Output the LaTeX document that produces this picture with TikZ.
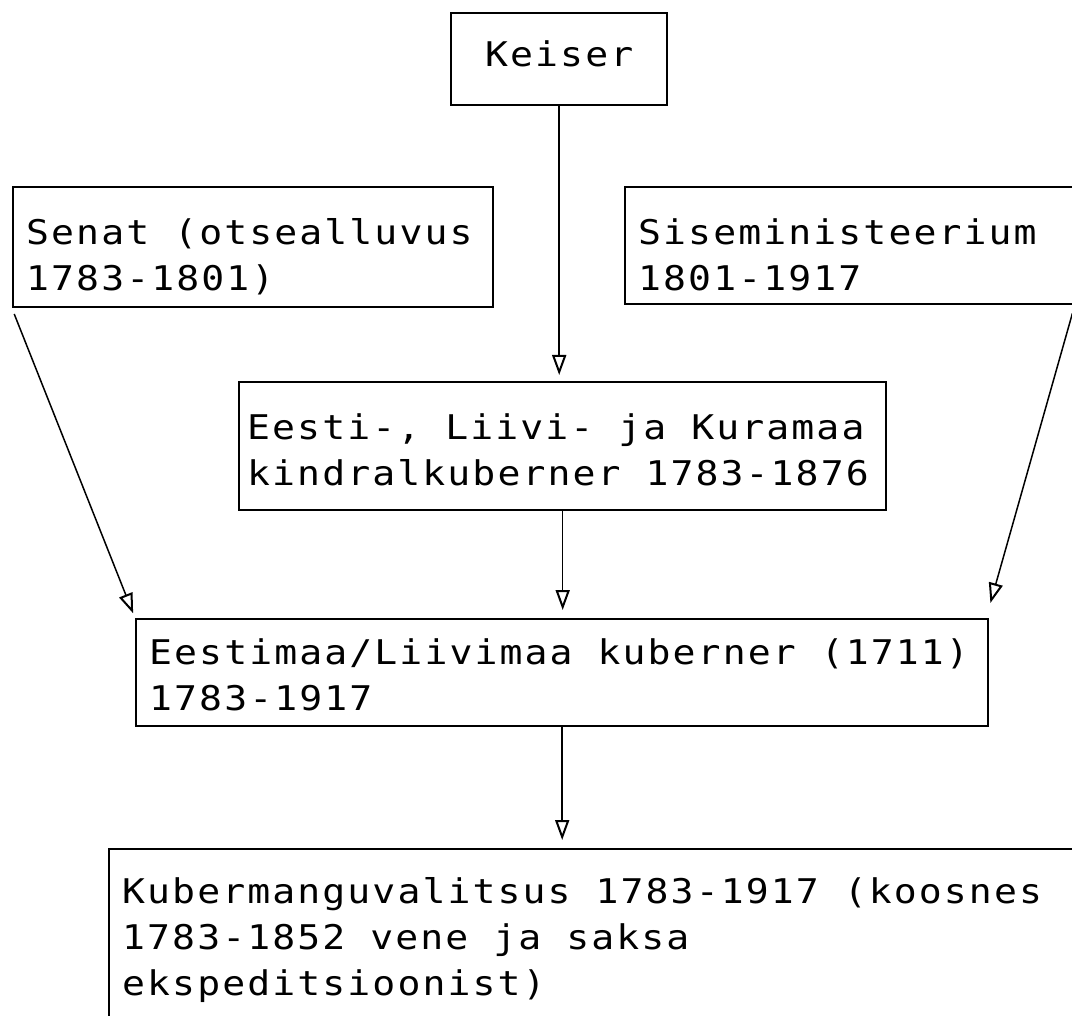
\documentclass[tikz,border=0pt]{standalone}
\usepackage{fontspec}
\setmonofont[FakeStretch=1.12,LetterSpace=6.2]{DejaVu Sans Mono}
\usetikzlibrary{arrows.meta,positioning}
\newcommand\boxfont{\fontsize{34}{46}\selectfont\ttfamily}
\newcommand\boxspace{\spaceskip 25pt\relax\xspaceskip 25pt\relax}

\begin{document}
\begin{tikzpicture}[x=1pt,y=-1pt,
  box/.style={draw,line width=2.4pt,anchor=north west,inner xsep=13pt,inner ysep=0pt,
    align=left,font=\boxfont},
  pad/.style 2 args={execute at begin node={\boxspace\rule{0pt}{#1}},
    execute at end node={\rule[-#2]{0pt}{#2}}},
  arr/.style={line width=1.5pt,
    -{Triangle[open,length=20pt,width=14pt,line width=2pt]}}]
\useasboundingbox (0,0) rectangle (1072,1016);
\fill[white] (0,0) rectangle (1072,1016);

% boxes
\node[box,text width=190pt,pad={53pt}{39pt},align=center] (keiser) at (450,12) {Keiser};
\node[box,text width=454pt,pad={57pt}{17pt}] (senat) at (12,186)
  {Senat (otsealluvus\\1783-1801)};
\node[box,text width=425pt,pad={57pt}{14pt}] (sise) at (624,186)
  {Siseministeerium\\1801-1917};
\node[box,text width=631pt,inner xsep=8pt,pad={57pt}{25pt}] (kindral) at (238,381)
  {Eesti-, Liivi- ja Kuramaa\\kindralkuberner 1783-1876};
\node[box,text width=826pt,pad={45pt}{16pt}] (eestimaa) at (135,618)
  {Eestimaa/Liivimaa kuberner (1711)\\1783-1917};
\node[box,text width=956pt,pad={54pt}{40pt}] (kub) at (108,848)
  {Kubermanguvalitsus 1783-1917 (koosnes\\1783-1852 vene ja saksa\\ekspeditsioonist)};

% arrows
\coordinate (sisefoot) at ([xshift=-5pt,yshift=-8pt]sise.south east);
\coordinate (eestitip) at ([xshift=1pt,yshift=15pt]eestimaa.north east);
\draw[arr,shorten >=6pt] (keiser.south) -- (keiser.south |- kindral.north);
\draw[arr,shorten >=8pt] (kindral.south) -- (kindral.south |- eestimaa.north);
\draw[arr,shorten >=8pt] (eestimaa.south) -- (eestimaa.south |- kub.north);
\draw[arr,shorten <=6pt,shorten >=5pt] (senat.south west) -- (eestimaa.north west);
\draw[arr] (sisefoot) -- (eestitip);

\end{tikzpicture}
\end{document}
